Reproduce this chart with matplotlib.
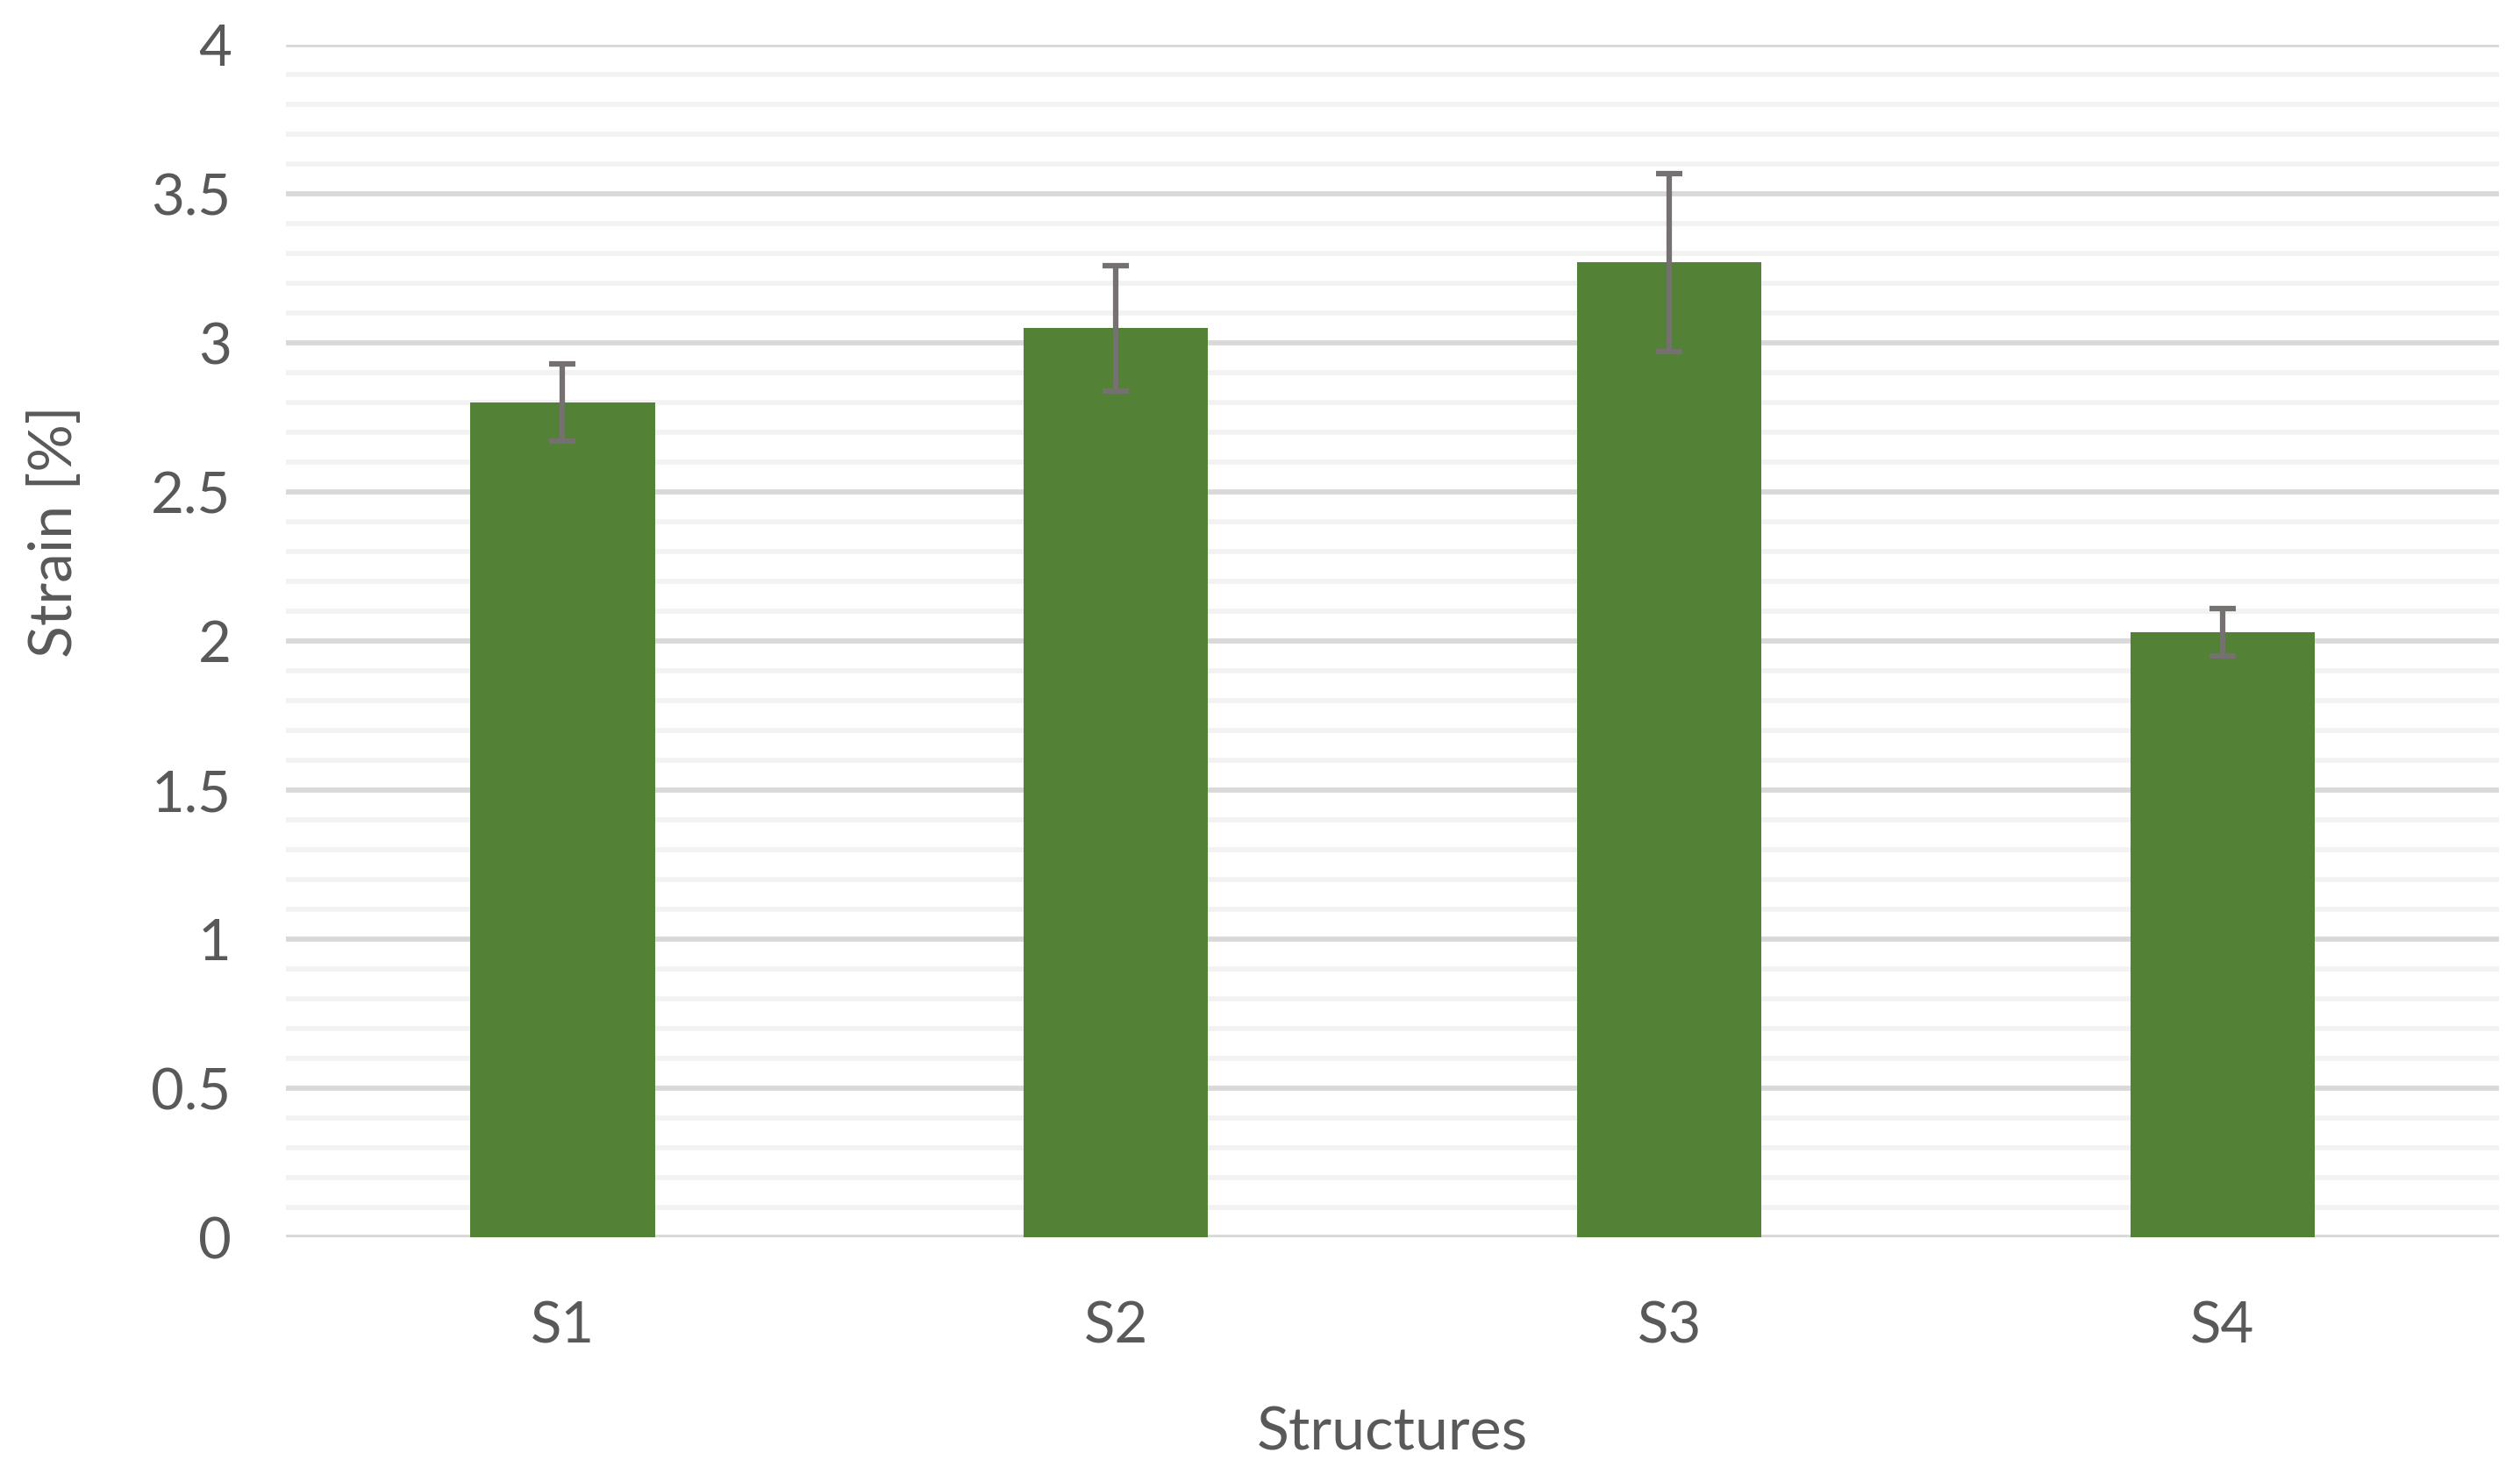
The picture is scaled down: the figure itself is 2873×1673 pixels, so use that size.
import numpy as np
import matplotlib.pyplot as plt
from matplotlib.ticker import MultipleLocator

# Data
structures = ['S1', 'S2', 'S3', 'S4']
strain = [2.80, 3.05, 3.27, 2.03]
strain_err = [0.13, 0.21, 0.30, 0.08]

plt.rcParams['font.family'] = ['Lato', 'DejaVu Sans']
text_color = '#595959'

fig = plt.figure(figsize=(28.73, 16.73), dpi=100)
ax = fig.add_axes([0.1135, 0.1566, 0.8782, 0.8127])

x = np.arange(len(structures))
ax.bar(x, strain, width=1 / 3, color='#538135', zorder=3)
ax.errorbar(x, strain, yerr=strain_err, fmt='none', ecolor='#767171',
            elinewidth=4.5, capsize=11, capthick=4.5, zorder=4)

ax.set_xlim(-0.5, len(structures) - 0.5)
ax.set_ylim(0, 4)
ax.yaxis.set_major_locator(MultipleLocator(0.5))
ax.yaxis.set_minor_locator(MultipleLocator(0.1))
ax.grid(which='major', axis='y', color='#D9D9D9', linewidth=4.2, zorder=1)
ax.grid(which='minor', axis='y', color='#F2F2F2', linewidth=4.2, zorder=0)
ax.set_axisbelow(True)

for s in ax.spines.values():
    s.set_visible(False)

ax.set_xticks(x)
ax.set_xticklabels(structures)
ax.set_yticks(np.arange(0, 4.01, 0.5))
ax.set_yticklabels(['0', '0.5', '1', '1.5', '2', '2.5', '3', '3.5', '4'])
ax.tick_params(axis='both', which='both', length=0, labelsize=47, colors=text_color)
ax.tick_params(axis='y', pad=45)
ax.tick_params(axis='x', pad=52)

ax.set_xlabel('Structures', fontsize=49, color=text_color, labelpad=44)
fig.text(0.022, 0.638, 'Strain [%]', rotation=90, fontsize=49, color=text_color,
         ha='center', va='center')

fig.savefig('out.png', dpi=100, facecolor='white')
